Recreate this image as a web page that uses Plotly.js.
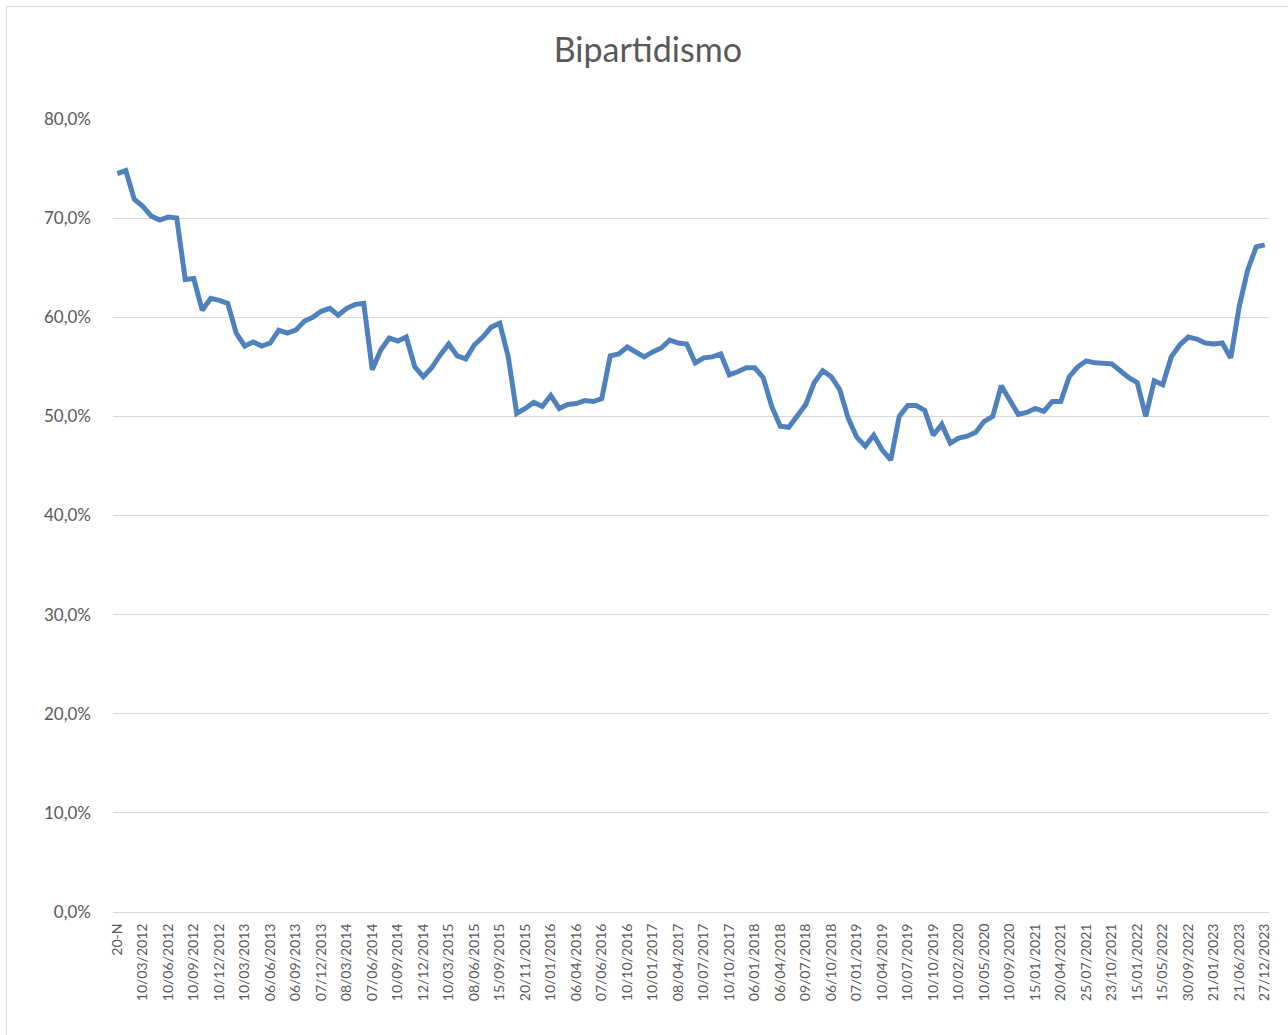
<!DOCTYPE html>
<html>
<head>
<meta charset="utf-8">
<script src="https://cdn.plot.ly/plotly-3.0.1.min.js"></script>
<style>
  html, body { margin: 0; padding: 0; background: #ffffff; }
  #wrap { position: relative; width: 1288px; height: 1035px; overflow: hidden; }
  #chart { position: absolute; left: 0; top: 0; width: 1288px; height: 1035px; }
  #frame { position: absolute; left: 6px; top: 6px; width: 1290px; height: 1040px; border: 1px solid #d9d9d9; pointer-events: none; box-sizing: border-box; }
</style>
</head>
<body>
<div id="wrap">
  <div id="chart"></div>
  <div id="frame"></div>
</div>
<script>
// Series values (share of vote, 0-1), one per survey, in order
const bipartidismo = [
  0.745, 0.748, 0.719, 0.712, 0.702, 0.698, 0.701, 0.700, 0.638, 0.639,
  0.607, 0.619, 0.617, 0.614, 0.584, 0.571, 0.575, 0.571, 0.574, 0.587,
  0.584, 0.587, 0.596, 0.600, 0.606, 0.609, 0.602, 0.609, 0.613, 0.614,
  0.547, 0.567, 0.579, 0.576, 0.580, 0.550, 0.540, 0.549, 0.562, 0.573,
  0.561, 0.558, 0.572, 0.580, 0.590, 0.594, 0.560, 0.503, 0.508, 0.514,
  0.510, 0.521, 0.508, 0.512, 0.513, 0.516, 0.515, 0.518, 0.561, 0.563,
  0.570, 0.565, 0.560, 0.565, 0.569, 0.577, 0.574, 0.573, 0.554, 0.559,
  0.560, 0.563, 0.542, 0.545, 0.549, 0.549, 0.539, 0.510, 0.490, 0.489,
  0.501, 0.512, 0.534, 0.546, 0.540, 0.527, 0.498, 0.479, 0.470, 0.481,
  0.466, 0.456, 0.500, 0.511, 0.511, 0.506, 0.481, 0.492, 0.473, 0.478,
  0.480, 0.484, 0.495, 0.500, 0.531, 0.517, 0.502, 0.504, 0.508, 0.505,
  0.515, 0.515, 0.540, 0.550, 0.556, 0.554, 0.553, 0.553, 0.546, 0.539,
  0.534, 0.500, 0.536, 0.532, 0.560, 0.572, 0.580, 0.578, 0.574, 0.573,
  0.574, 0.559, 0.611, 0.648, 0.671, 0.673
];

// Category tick labels (shown on every third survey)
const tickLabels = [
  "20-N", "10/03/2012", "10/06/2012", "10/09/2012", "10/12/2012",
  "10/03/2013", "06/06/2013", "06/09/2013", "07/12/2013", "08/03/2014",
  "07/06/2014", "10/09/2014", "12/12/2014", "10/03/2015", "08/06/2015",
  "15/09/2015", "20/11/2015", "10/01/2016", "06/04/2016", "07/06/2016",
  "10/10/2016", "10/01/2017", "08/04/2017", "10/07/2017", "10/10/2017",
  "06/01/2018", "06/04/2018", "09/07/2018", "06/10/2018", "07/01/2019",
  "10/04/2019", "10/07/2019", "10/10/2019", "10/02/2020", "10/05/2020",
  "10/09/2020", "15/01/2021", "20/04/2021", "25/07/2021", "23/10/2021",
  "15/01/2022", "15/05/2022", "30/09/2022", "21/01/2023", "21/06/2023",
  "27/12/2023"
];
const labelEvery = 3;

const xIdx = bipartidismo.map((_, i) => i);
const tickVals = tickLabels.map((_, k) => k * labelEvery);

const textColor = '#595959';
const fontFam = 'Lato, "Open Sans", "Liberation Sans", sans-serif';

const trace = {
  type: 'scatter',
  mode: 'lines',
  x: xIdx,
  y: bipartidismo,
  line: { color: '#4f81bd', width: 5, shape: 'linear' },
  hoverinfo: 'skip',
  showlegend: false
};

const layout = {
  width: 1288,
  height: 1035,
  paper_bgcolor: '#ffffff',
  plot_bgcolor: '#ffffff',
  separators: ',.',
  margin: { l: 113, r: 19, t: 119, b: 123, pad: 0 },
  font: { family: fontFam, color: textColor },
  title: {
    text: 'Bipartidismo',
    font: { family: fontFam, size: 34, color: textColor },
    x: 0.503, xref: 'container', xanchor: 'center',
    y: 1 - 50 / 1035, yref: 'container', yanchor: 'middle'
  },
  xaxis: {
    type: 'linear',
    range: [-0.5, bipartidismo.length - 0.5],
    tickmode: 'array',
    tickvals: tickVals,
    ticktext: tickLabels,
    tickangle: -90,
    tickfont: { family: fontFam, size: 14, color: textColor },
    showgrid: false,
    zeroline: false,
    showline: true,
    linecolor: '#d9d9d9',
    linewidth: 1,
    ticks: '',
    ticklabelstandoff: 5
  },
  yaxis: {
    range: [0, 0.8],
    dtick: 0.1,
    tick0: 0,
    tickformat: '.1%',
    tickfont: { family: fontFam, size: 17, color: textColor },
    showgrid: true,
    gridcolor: '#d9d9d9',
    gridwidth: 1,
    zeroline: false,
    showline: false,
    ticks: '',
    ticklabelstandoff: 21
  }
};

Plotly.newPlot('chart', [trace], layout, { staticPlot: true, displayModeBar: false });
</script>
</body>
</html>
